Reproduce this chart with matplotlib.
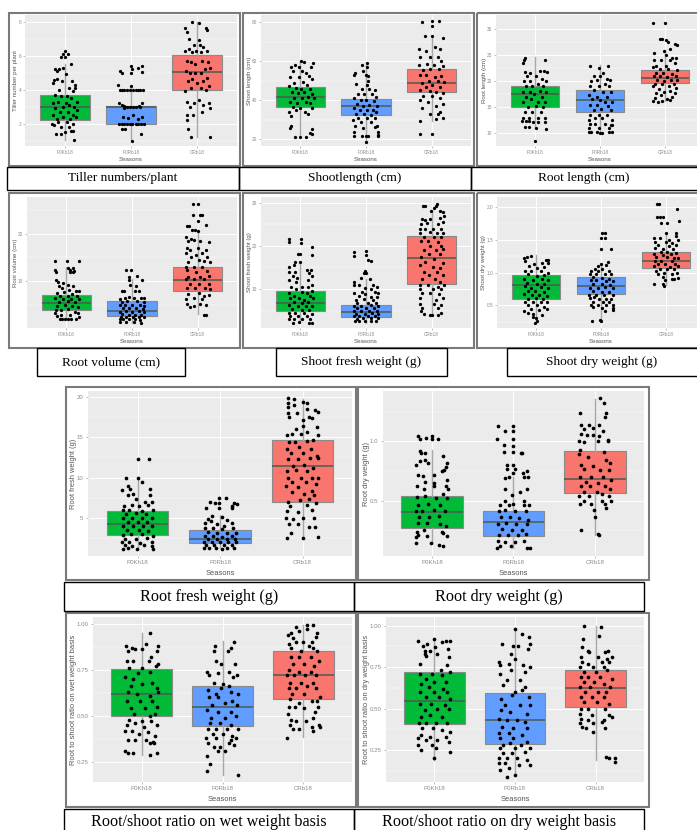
import matplotlib
matplotlib.use("Agg")
import matplotlib.pyplot as plt
from matplotlib.patches import Rectangle
from matplotlib.transforms import Affine2D

plt.rcParams['font.family'] = ['Liberation Sans', 'DejaVu Sans']

W, H = 697, 830

categories = ["P0Kh18", "P0Rb18", "CRb18"]
box_colors = ["#00BA38", "#619CFF", "#F8766D"]

# jittered points: (offset from category, value)
tiller_kh = [(.01,6.3),(-.02,6.1),(.05,6.1),(-.05,5.9),(0,5.9),(.09,5.5),(-.14,5.2),(-.09,5.2),(-.02,5.25),(-.11,5.1),(.02,4.9),(-.16,4.55),(-.12,4.6),(-.04,4.5),(.11,4.5),(.16,4.3),(-.17,4.4),(.06,4.1),(.15,4.1),(-.08,4.0),(.13,3.9),(-.15,3.7),(-.05,3.6),(.03,3.6),(.1,3.5),(.18,3.3),(-.18,3.2),(-.1,3.3),(.02,3.2),(.07,3.1),(-.03,3.0),(.14,3.0),(-.14,2.9),(.19,2.8),(-.07,2.7),(.05,2.7),(.12,2.5),(-.17,2.5),(-.02,2.4),(.08,2.3),(-.12,2.3),(.17,2.4),(-.19,2.0),(-.1,2.1),(.03,2.1),(.12,2.0),(-.16,1.9),(-.05,1.8),(.07,1.8),(.13,1.6),(-.13,1.4),(-.05,1.4),(.01,1.5),(.09,1.6),(.14,1.05)]
tiller_rb = [(-.16,5.1),(-.14,5.0),(0,5.4),(.01,5.2),(.1,5.3),(.17,5.4),(.16,5.05),(0,5.0),(-.19,4.3),(-.17,4.0),(-.13,4.0),(-.1,4.0),(-.06,4.0),(-.02,4.0),(.03,4.0),(.07,4.0),(.11,4.0),(.14,4.0),(.18,4.0),(.0,4.2),(-.18,3.2),(-.14,3.1),(-.1,3.05),(-.06,3.0),(-.02,3.0),(.03,3.0),(.08,3.0),(.12,3.05),(.17,3.2),(.14,3.0),(-.1,2.9),(-.12,2.4),(-.05,2.35),(.03,2.5),(.1,2.3),(.17,2.4),(-.18,2.0),(-.14,2.0),(-.1,2.0),(-.06,2.0),(-.02,2.0),(.02,2.0),(.07,2.0),(.11,2.0),(.15,2.0),(.19,2.0),(-.13,1.7),(-.09,1.7),(.01,1.0),(.15,1.4)]
tiller_cr = [(-.18,7.6),(-.16,7.4),(-.08,8.0),(.02,7.9),(.13,7.6),(.15,7.5),(-.13,7.0),(-.05,6.6),(.04,6.6),(.09,6.5),(.03,6.9),(-.18,6.3),(-.13,6.4),(-.08,6.2),(-.02,6.3),(.05,6.2),(.15,6.25),(-.16,5.7),(-.1,5.6),(-.03,5.5),(.07,5.7),(.16,5.6),(.19,5.3),(-.17,5.1),(-.11,5.0),(-.04,5.0),(.05,5.0),(.11,5.2),(-.14,4.5),(-.08,4.6),(0,4.4),(.08,4.5),(.15,4.7),(.18,4.2),(-.18,3.9),(-.09,4.1),(.06,4.1),(.13,4.0),(-.15,3.3),(-.11,3.0),(-.05,3.2),(.02,3.4),(.09,3.1),(.17,3.2),(.19,2.9),(-.16,2.5),(-.15,2.2),(-.06,2.5),(.07,2.7),(-.14,1.7),(-.1,1.2),(.19,1.2)]

shoot_kh = [(.01,60),(.05,59.5),(.19,59),(-.08,58),(-.14,57),(-.02,57),(.16,57),(-.11,55),(.03,55),(.09,54),(-.16,52),(-.02,52),(.13,52.5),(.18,51),(-.1,49),(.04,49.5),(.1,48),(-.17,47.5),(-.07,46.5),(.01,46),(.14,46),(-.13,44),(-.03,43.5),(.06,44),(.17,43),(-.1,41),(.02,41),(.11,41.5),(.2,41),(-.16,39),(-.05,38.5),(.08,39),(.15,38.5),(-.12,36.5),(0,36),(.18,36),(-.17,34),(-.07,35),(.07,34),(-.14,32),(.12,33),(-.15,27),(-.16,26),(.17,25.5),(.14,23),(.17,22.5),(-.08,21),(0,21),(.08,21)]
shoot_rb = [(-.19,53),(-.17,54),(-.06,58),(.01,59),(.02,57),(-.04,55),(.0,53),(.03,52.5),(-.16,48.5),(.01,48),(.03,50),(-.06,46),(.05,46),(.13,45),(-.12,43),(-.03,43),(.09,43),(.15,41.5),(-.18,41),(-.08,40),(0,40),(.12,39.5),(-.14,38),(-.04,37),(.05,37.5),(.17,37),(-.18,36),(-.09,35),(.01,35),(.1,35),(.15,34),(-.15,33),(-.03,33),(.07,32.5),(-.12,31),(.02,31),(.13,31),(-.2,30),(-.07,29),(.08,29),(-.17,27),(.17,27),(-.05,26),(.14,26.5),(-.19,24),(.19,24),(.18,22),(-.19,21.5),(-.06,21.5),(0,21.5),(.03,21.5),(.19,21.5),(0,18.5)]
shoot_cr = [(-.14,80),(0,80.5),(.11,80.5),(0,78),(-.1,73),(0,73),(.17,72),(-.19,66),(-.09,65),(.05,67),(.12,66),(-.17,62),(-.03,62),(.09,62),(.15,60),(-.19,58),(-.07,58.5),(.03,58),(.18,57.5),(-.13,55.5),(-.02,56),(.11,56),(-.17,53),(-.09,53),(.05,52),(.15,52.5),(-.04,50),(.09,50),(.19,49.5),(-.14,49),(0,48),(-.08,47),(.13,47),(-.18,45),(-.03,44.5),(.07,44),(.17,43.5),(-.13,42),(.01,42),(.12,41),(-.17,40),(-.05,39),(.17,38),(.06,37),(-.14,36),(.12,34),(-.02,33),(.1,33),(.18,31),(.06,30.5),(-.18,29.5),(-.18,22.5),(0,22.5)]

rootlen_kh = [(-.16,24.5),(-.17,24),(.16,24),(-.18,23.5),(-.16,21.8),(-.08,21.5),(.08,22),(.14,22),(.18,21.8),(-.12,21),(.02,21),(.11,20.5),(-.17,20),(-.07,20),(.17,20),(.05,19.5),(-.14,19),(-.04,19),(.13,19),(-.18,18),(-.08,18),(.07,18.2),(.17,18),(-.14,17),(-.02,17.5),(.11,17),(-.19,16),(-.06,16.5),(.05,16),(.16,16),(-.11,15),(.01,15.3),(.12,15),(-.16,14),(-.05,14),(.09,14),(-.18,13),(-.09,13),(.04,13),(.16,13),(-.2,12.3),(-.14,12.3),(-.09,12.3),(-.03,12.2),(.05,12.2),(.15,12.2),(-.16,11.2),(-.1,11.2),(.17,10.9),(.02,11),(0,8.5)]
rootlen_rb = [(-.16,23),(.13,23),(-.02,22.5),(.05,21.5),(-.1,21),(0,21),(.11,20.5),(.16,20.2),(-.14,20),(-.05,20.2),(.07,19.5),(-.15,19),(-.02,19),(.14,19),(-.1,18.3),(.05,18),(.17,18),(-.17,17.3),(-.05,17),(.11,17),(-.13,16.5),(0,16.3),(.08,16),(.19,16),(-.16,15.5),(-.05,15.5),(.12,15.3),(-.1,14.5),(.02,14.7),(.17,14.5),(-.15,13.5),(-.02,13.5),(.1,13.5),(-.17,12.5),(-.07,13),(.03,13),(.19,12.5),(-.16,11.7),(-.08,11.8),(.07,11.8),(.17,11.5),(-.17,11),(-.02,11),(.14,11),(.18,11.5),(-.17,10.2),(-.14,10.2),(-.05,10.2),(0,10.1),(.03,10.1),(.14,10.2),(.18,10.2)]
rootlen_cr = [(-.18,31.2),(0,31.1),(-.07,28),(-.05,28),(.01,27.9),(.05,27.5),(.15,27.2),(.18,27),(.07,26.2),(-.02,25.8),(-.17,25.5),(.02,25),(.11,24.5),(.17,24.5),(-.17,24),(-.06,24),(.08,24),(-.14,23),(.01,23),(.15,23.5),(-.19,22.8),(-.08,22.3),(.04,22.3),(.18,22.2),(-.14,21.5),(-.03,21.6),(.11,21.3),(-.17,21),(-.07,20.9),(.03,20.8),(.17,20.9),(-.12,20.2),(-.01,20.1),(.09,20.3),(.19,20.2),(-.16,19.5),(-.05,19.5),(.14,19.5),(-.18,19),(.06,19),(-.1,18.5),(.17,18.7),(-.02,18),(.08,18.2),(-.14,17.8),(.15,17.8),(-.06,17.3),(.1,17),(-.16,16.8),(-.18,16.2),(-.11,16),(-.04,16.2),(.03,16.5),(.07,16.3)]

volume_kh = [(-.17,14.3),(.01,14.3),(.19,14.3),(.02,12.7),(.1,12.7),(-.17,12.3),(-.16,12),(.05,12.3),(.05,11.9),(.1,11.9),(.12,12.1),(-.16,10.2),(-.13,9.9),(-.05,9.6),(.02,9.2),(-.12,9),(.1,9),(-.07,8.5),(.04,8.2),(.15,8),(-.14,7.5),(-.04,7.8),(.08,7.4),(.19,8),(-.1,7),(.02,7),(.16,7),(-.17,6.5),(-.05,6.3),(.07,6.2),(.19,6.3),(-.12,5.6),(.03,5.8),(.13,5.6),(-.02,5),(-.15,4.8),(.08,4.8),(.18,4.6),(-.16,4),(-.08,4),(.03,4.1),(.13,3.6),(-.17,3.3),(-.15,2.8),(-.08,3),(.05,3),(.18,3.3),(.19,2.6),(-.1,2),(-.06,2),(-.02,2),(.03,2),(.07,2),(.14,2)]
volume_rb = [(-.09,12.3),(-.01,12.3),(.08,11.1),(-.05,11),(.15,10.3),(-.05,10.2),(-.03,9.3),(.06,9),(-.15,8),(-.12,8),(.04,8),(.11,7.9),(.13,6.5),(-.18,6.2),(-.1,6.5),(-.04,6.8),(.03,6.4),(.18,6.5),(-.15,5.7),(-.07,5.8),(.07,5.8),(.18,5.7),(-.18,5),(-.1,5),(0,5.1),(.12,5),(.19,4.9),(-.14,4.3),(-.05,4.4),(.06,4.4),(.16,4.2),(-.18,3.6),(-.09,3.7),(0,3.6),(.1,3.7),(.19,3.6),(-.15,3.1),(-.04,3),(.05,3),(.14,3),(-.17,2.6),(-.09,2.5),(.02,2.5),(.11,2.5),(.18,2.6),(-.19,2),(-.13,2),(-.05,2),(.04,2),(.12,1.9),(-.18,1.4),(-.09,1.5),(.03,1.5),(.14,1.3)]
volume_cr = [(-.07,26.3),(0,26.2),(-.07,24),(.03,24),(.07,24),(0,22.7),(-.16,21.7),(-.13,21.6),(.13,21.9),(-.09,20.8),(-.04,20.8),(.01,20.6),(-.17,19.3),(-.14,18.4),(-.1,18.8),(-.05,18.6),(.03,18.5),(.18,18.2),(-.16,17),(-.12,16.5),(0,17),(.13,16.5),(-.18,16),(-.03,15.6),(.06,16),(-.1,15),(.15,15),(-.14,14),(.02,14.5),(.1,14.2),(.19,14),(-.18,13),(-.06,13),(.06,13),(-.16,12.3),(-.02,12),(.14,12.2),(-.14,11),(.04,11),(.17,11.2),(-.18,10.5),(-.05,10.4),(.09,10.5),(-.12,9.5),(.02,9.4),(.17,9.5),(-.16,8.5),(-.04,8.5),(.11,8.5),(.19,8.3),(-.14,7.3),(.02,7.5),(.1,7),(.18,7.2),(-.17,6.2),(-.05,6.4),(.07,6.2),(-.16,5.2),(-.12,4.5),(-.06,4.8),(.03,5.2),(.13,5),(.09,3),(.13,3)]

fresh_kh = [(-.18,21.5),(-.17,20.8),(.01,21.5),(.01,20.6),(.17,19.8),(-.03,18),(.0,18),(.18,17.8),(-.08,16.3),(.0,16.3),(-.1,15.5),(-.17,15),(.1,14.5),(.16,14.3),(-.17,14),(-.08,14),(.13,13.8),(-.12,13),(.18,13),(-.05,12.5),(.12,12),(-.18,12),(-.06,11.5),(.18,11),(-.14,10.5),(.03,10.5),(.12,10.5),(-.06,10),(.18,9.6),(-.17,9),(.02,9.2),(.1,9),(-.1,8.4),(.14,8.3),(-.16,7.8),(-.02,8),(.06,7.5),(.19,7.8),(-.1,7),(.02,6.8),(.12,7),(-.18,6.3),(-.04,6),(.08,6),(.17,6),(-.13,5.3),(.02,5.2),(.13,5.2),(-.18,4.5),(-.08,4.5),(.06,4.5),(.17,4.3),(-.16,3.7),(-.03,3.8),(.1,3.8),(-.18,3),(-.1,3),(.03,3),(.15,3),(-.12,2.2),(-.02,2.4),(.13,2.2),(.18,2.2)]
fresh_rb = [(-.19,18.6),(-.18,17.7),(.0,18.7),(.0,17.8),(.03,16.6),(.08,16.5),(-.02,14.1),(-.03,13.8),(.0,13.6),(-.07,12.6),(-.18,11.6),(.06,12.2),(-.19,11),(-.1,11),(.1,11),(.16,10.5),(-.02,10.3),(.08,10),(-.06,9.4),(.14,9.4),(-.19,9),(-.01,8.8),(.18,9),(-.1,8.3),(.07,8.2),(.16,8.2),(-.16,7.5),(-.03,7.6),(.1,7.5),(-.14,6.8),(.03,6.8),(.15,6.8),(-.18,6),(-.07,6),(.07,6.2),(.18,6),(-.14,5.5),(0,5.5),(.12,5.5),(-.18,4.9),(-.08,4.9),(.05,5),(.16,4.8),(-.15,4.3),(-.02,4.3),(.09,4.4),(.19,4.3),(-.18,3.7),(-.1,3.7),(.03,3.7),(.14,3.7),(-.14,3.1),(-.05,3.2),(.07,3.2),(.18,3.2),(-.17,2.6),(-.1,2.5),(-.02,2.6),(.07,2.5),(.15,2.6)]
fresh_cr = [(-.13,29.3),(-.1,29.3),(.03,28.8),(.06,29.2),(.08,29.7),(-.01,28),(.12,28),(.17,27.8),(.19,27),(-.14,26.3),(-.1,26),(-.03,26.2),(.13,26.5),(-.16,25),(-.07,25.2),(.1,25),(.17,25.5),(-.17,24),(-.1,24),(.02,24),(.14,23.8),(-.18,23),(-.03,23.2),(.08,23),(.18,23),(-.12,22),(.04,22),(.14,22),(-.16,21),(-.05,21),(.1,20.8),(-.02,20),(.15,20),(-.12,19),(.07,19),(.18,19.2),(-.16,17.5),(-.04,18),(.12,18),(.03,17),(-.1,16.3),(.17,16),(-.17,15.5),(.02,15.2),(.12,14.8),(-.12,14),(.08,14),(-.04,13.2),(.17,13.3),(-.15,12.2),(.05,12.3),(.12,11.7),(-.18,11),(-.06,11),(.09,10.5),(.19,11),(-.17,10),(.02,10),(.14,10),(-.15,9),(-.02,9),(.11,8.8),(-.18,7.8),(.06,7.5),(.17,8),(-.17,6.6),(.04,6.6),(.14,6.3),(-.14,5.5),(.09,5.7),(-.16,5),(-.12,4.3),(-.03,4),(0,4),(.09,4),(.14,4.4)]

dry_kh = [(-.18,1.22),(-.14,1.24),(-.08,1.25),(.16,1.19),(.19,1.19),(-.17,1.17),(.09,1.14),(.18,1.14),(-.03,1.13),(-.11,1.1),(.02,1.07),(.13,1.08),(-.17,1.02),(-.07,1.03),(.07,1.03),(.19,1.0),(-.12,.97),(.01,.95),(.13,.96),(-.18,.9),(-.05,.89),(.09,.9),(.19,.88),(-.14,.84),(.02,.83),(.13,.83),(-.17,.79),(-.08,.76),(.07,.78),(.18,.76),(-.13,.72),(-.01,.72),(.12,.7),(-.18,.68),(-.06,.65),(.05,.66),(.17,.64),(-.12,.6),(0,.61),(.11,.59),(-.17,.55),(-.04,.55),(.08,.55),(.17,.55),(-.13,.5),(.01,.5),(.12,.48),(-.18,.42),(-.08,.44),(.04,.43),(.17,.44),(-.12,.38),(-.05,.37),(.09,.36),(-.05,.33),(0,.3),(-.01,.23),(.01,.26)]
dry_rb = [(.01,1.6),(.06,1.6),(.0,1.53),(.06,1.52),(.0,1.36),(.15,1.36),(.11,1.16),(-.05,1.1),(.0,1.13),(.08,1.12),(.02,1.05),(.13,1.03),(-.16,1.03),(-.1,1.05),(-.05,1.02),(-.17,.98),(-.07,.97),(.06,.98),(.15,.97),(-.13,.93),(.02,.92),(.13,.9),(-.16,.88),(-.07,.88),(.07,.87),(.18,.87),(-.12,.82),(.01,.82),(.14,.81),(-.17,.77),(-.05,.76),(.06,.78),(.19,.76),(-.13,.72),(.01,.71),(.12,.71),(-.18,.66),(-.08,.65),(.05,.66),(.18,.66),(-.17,.61),(-.11,.62),(-.03,.6),(.08,.6),(.16,.6),(-.12,.55),(.03,.55),(.13,.55),(-.15,.5),(-.05,.5),(.07,.5),(.19,.5),(-.13,.47),(.02,.46),(.18,.46),(.19,.43),(.06,.42),(-.14,.26),(-.02,.27),(0,.26)]
dry_cr = [(-.14,2.04),(-.11,2.04),(.17,1.97),(-.1,1.85),(-.14,1.85),(-.04,1.84),(-.07,1.76),(.01,1.75),(.2,1.79),(.0,1.6),(.15,1.6),(.15,1.55),(-.18,1.52),(-.1,1.52),(.05,1.5),(.18,1.5),(-.17,1.47),(0,1.47),(.09,1.45),(-.13,1.42),(.04,1.4),(.16,1.42),(-.17,1.38),(-.04,1.36),(.11,1.36),(-.08,1.32),(.02,1.32),(.16,1.3),(-.18,1.28),(-.04,1.27),(.07,1.28),(-.15,1.23),(.01,1.23),(.12,1.22),(.19,1.22),(-.17,1.18),(-.07,1.17),(.09,1.18),(-.13,1.13),(-.01,1.13),(.14,1.13),(-.18,1.1),(.06,1.09),(.19,1.1),(-.1,1.06),(.02,1.05),(.13,1.05),(-.16,1.02),(-.03,1.0),(.17,1.0),(-.13,.97),(.09,.97),(-.04,.93),(.18,.91),(-.02,.88),(.09,.9),(.13,.9),(-.19,.82),(-.05,.83),(-.03,.8)]

rfresh_kh = [(0,12.3),(.14,12.3),(-.14,10),(0,9.9),(.05,9.5),(-.11,9),(-.09,8.6),(.15,8.6),(-.19,8.5),(-.05,8),(-.12,7.8),(.15,7.9),(-.02,7.4),(.09,7),(.18,7),(-.16,6.5),(-.07,6.6),(.02,6.5),(.13,6.6),(-.18,6),(-.1,6),(.05,5.9),(.19,6),(-.14,5.5),(-.02,5.6),(.1,5.5),(-.18,5),(-.07,5),(.05,5),(.17,5),(-.12,4.5),(0,4.5),(.12,4.5),(-.17,4),(-.06,4),(.07,4),(.17,4),(-.13,3.5),(.02,3.5),(.13,3.4),(-.18,2.9),(-.08,3),(.06,3),(.19,2.8),(-.15,2.4),(-.02,2.4),(.12,2.5),(-.19,2),(-.1,2),(.03,1.9),(.17,2),(-.15,1.6),(-.07,1.5),(.08,1.7),(.18,1.5),(-.18,1.1),(-.11,1.3),(-.01,1.2),(.19,1.2)]
rfresh_rb = [(-.01,7.5),(.07,7.5),(-.12,7),(-.06,6.8),(-.01,6.8),(.17,6.9),(.21,6.7),(.15,6.5),(-.17,6.3),(-.01,6.3),(.14,6.2),(-.1,5.3),(.02,5.1),(-.15,4.9),(.08,4.8),(-.18,4.4),(-.11,4.6),(.15,4.4),(-.04,4.2),(.05,4),(-.18,3.8),(-.09,3.7),(.02,3.6),(.16,3.8),(-.15,3.3),(-.04,3.2),(.08,3.1),(.19,3.2),(-.18,2.8),(-.08,2.8),(.02,2.7),(.14,2.8),(-.14,2.4),(-.04,2.4),(.08,2.4),(.18,2.4),(-.19,2),(-.1,2),(0,2),(.1,2),(.19,2),(-.17,1.6),(-.07,1.6),(.05,1.6),(.15,1.6),(-.19,1.3),(-.13,1.3),(-.05,1.3),(.02,1.2),(.09,1.3),(.17,1.3)]
rfresh_cr = [(-.18,19.9),(-.1,19.8),(-.18,19.3),(0,19.4),(.05,19.3),(-.18,18.7),(-.1,19),(.05,18.5),(.15,18.4),(.19,18.1),(-.18,18),(-.07,18),(-.16,17.5),(.08,17.5),(.01,17.2),(.12,17.4),(0,16.4),(.17,16.3),(-.08,16),(.05,15.7),(-.19,15.3),(-.13,15.4),(-.02,15.4),(.19,15.3),(-.16,14.4),(-.09,14.4),(.05,14.5),(.13,14.7),(-.19,13.6),(-.04,13.8),(.1,13.5),(-.14,13),(.01,13),(.17,12.7),(-.18,12.3),(-.06,12.3),(.09,12.4),(.19,12.4),(-.12,11.4),(.02,11.6),(.13,11.2),(-.19,10.8),(-.08,11),(.06,10.8),(-.18,10),(-.02,10),(.12,10),(.19,10),(-.13,9.5),(.04,9.4),(.16,9.2),(-.2,9),(-.05,8.8),(.11,8.4),(-.13,8.2),(.02,8),(.14,7.8),(-.17,7),(-.03,7.2),(.08,7.3),(-.15,6.5),(.05,6.6),(.16,6.8),(-.19,5.9),(-.06,5.7),(.12,6),(-.2,5),(-.12,4.9),(0,5),(.14,5),(-.16,4.3),(-.05,4.2),(.08,3.9),(.15,3.9),(-.14,3.2),(-.19,2.5),(0,2.5),(.19,2.6)]

rdry_kh = [(-.17,1.04),(-.15,1.02),(-.07,1.03),(0,1.04),(.0,1.02),(.08,1.02),(-.15,.92),(-.13,.9),(-.09,.9),(.14,.88),(-.15,.83),(-.09,.84),(-.05,.82),(.18,.82),(.17,.78),(-.19,.8),(.15,.76),(.12,.75),(-.17,.72),(-.11,.71),(.03,.72),(.18,.67),(-.08,.66),(.03,.65),(-.18,.62),(.03,.62),(.17,.62),(.2,.6),(-.1,.6),(.13,.56),(-.18,.53),(-.08,.54),(.05,.52),(.18,.52),(-.17,.46),(-.05,.47),(.1,.46),(-.2,.41),(-.12,.41),(.02,.42),(.16,.41),(-.16,.36),(-.03,.36),(.09,.37),(-.17,.31),(-.06,.31),(.1,.3),(.17,.29),(-.18,.24),(-.1,.25),(.12,.24),(-.17,.21),(-.06,.2),(.19,.2),(-.19,.19),(.14,.23),(-.2,.14),(-.01,.14),(.09,.13),(.13,.12)]
rdry_rb = [(-.19,1.13),(0,1.13),(-.1,1.09),(0,1.09),(-.2,1.02),(0,1.02),(-.12,.97),(0,.96),(-.12,.91),(0,.91),(.09,.9),(.11,.9),(-.08,.8),(0,.8),(.02,.77),(-.08,.77),(.17,.75),(.12,.73),(.0,.73),(-.05,.7),(-.1,.69),(.13,.7),(.18,.7),(-.11,.6),(.17,.6),(-.02,.55),(.08,.57),(-.1,.5),(-.01,.47),(.13,.5),(-.17,.46),(-.06,.46),(.13,.46),(.19,.46),(-.18,.41),(-.1,.42),(.02,.41),(.15,.41),(-.15,.36),(-.04,.36),(.07,.35),(.18,.34),(-.19,.3),(-.09,.31),(.03,.3),(.17,.3),(-.14,.26),(-.02,.25),(.1,.25),(-.18,.21),(-.07,.21),(.05,.21),(.15,.22),(-.19,.16),(-.1,.15),(.02,.15),(.13,.16),(-.17,.12),(-.03,.12),(.16,.1),(.2,.1),(-.2,.1)]
rdry_cr = [(.06,1.36),(.11,1.32),(-.19,1.24),(.14,1.24),(.12,1.2),(.05,1.14),(-.17,1.14),(-.07,1.14),(-.03,1.11),(-.13,1.1),(.1,1.09),(-.17,1.06),(-.1,1.05),(-.03,1.05),(.05,1.04),(.16,1.01),(-.2,1.0),(-.13,.99),(.03,1.0),(.16,1.0),(-.18,.93),(.11,.91),(-.2,.89),(-.09,.87),(.14,.84),(-.17,.8),(-.02,.79),(.18,.82),(-.13,.77),(.06,.76),(.17,.76),(-.18,.7),(-.05,.7),(.1,.7),(-.11,.66),(.03,.65),(.19,.67),(-.17,.62),(-.06,.62),(.12,.62),(.18,.6),(-.14,.57),(.02,.57),(.09,.56),(-.2,.54),(-.07,.54),(.17,.54),(-.13,.5),(.08,.5),(.19,.5),(-.18,.47),(-.05,.47),(.12,.47),(.14,.44),(-.01,.42),(.0,.36),(-.17,.25),(.03,.22),(.05,.21)]

wet_kh = [(.1,.95),(-.19,.88),(-.12,.87),(.05,.89),(.2,.88),(-.17,.85),(-.08,.86),(.01,.86),(.19,.85),(.12,.82),(-.18,.8),(-.1,.8),(.09,.8),(.2,.78),(-.15,.76),(.0,.76),(.18,.77),(-.05,.73),(.11,.74),(-.2,.71),(-.1,.7),(.13,.68),(-.13,.66),(.01,.67),(.19,.65),(-.17,.63),(-.06,.62),(.1,.61),(.2,.63),(-.18,.58),(-.02,.58),(.13,.58),(-.13,.54),(.04,.54),(.19,.55),(-.09,.51),(.1,.5),(.17,.51),(-.16,.48),(0,.47),(.12,.47),(-.18,.45),(-.08,.46),(.03,.44),(.19,.45),(-.2,.42),(-.12,.42),(.08,.41),(-.03,.4),(.17,.39),(-.17,.37),(-.08,.37),(.05,.37),(.14,.36),(.1,.35),(.15,.35),(-.2,.31),(-.17,.3),(-.11,.3),(.1,.29),(.19,.3)]
wet_rb = [(-.09,.88),(.14,.9),(.1,.87),(-.1,.85),(.07,.85),(-.08,.8),(.15,.78),(-.02,.78),(-.19,.74),(.08,.74),(-.17,.72),(-.05,.73),(.13,.71),(.18,.72),(-.1,.68),(.01,.67),(.08,.66),(-.02,.65),(-.18,.64),(-.08,.62),(.1,.63),(.19,.62),(-.17,.6),(-.05,.6),(.12,.58),(-.13,.56),(.03,.57),(.18,.56),(-.19,.53),(-.06,.52),(.1,.52),(-.14,.49),(.03,.49),(.17,.5),(-.16,.46),(-.03,.46),(.1,.45),(-.18,.43),(-.08,.43),(.05,.43),(.19,.43),(-.12,.4),(.0,.4),(.12,.39),(-.2,.38),(-.08,.38),(.1,.37),(.17,.38),(-.18,.35),(-.1,.33),(-.03,.33),(.14,.34),(.08,.35),(-.05,.31),(.03,.31),(-.19,.28),(-.16,.24),(-.19,.2),(.19,.18)]
wet_cr = [(-.15,.95),(-.09,.98),(-.06,.96),(.04,.99),(.05,.97),(.12,.99),(.17,.95),(-.19,.94),(-.13,.92),(.16,.93),(-.09,.9),(0,.9),(.1,.9),(-.18,.89),(-.15,.87),(.07,.88),(.12,.87),(-.03,.85),(.17,.85),(-.15,.82),(-.05,.82),(.09,.82),(.19,.8),(-.13,.78),(.01,.78),(.13,.77),(-.18,.75),(-.05,.74),(.09,.74),(-.2,.72),(-.12,.72),(.02,.72),(.16,.72),(-.17,.68),(-.03,.68),(.12,.68),(-.18,.65),(-.09,.65),(.05,.66),(.16,.65),(-.14,.62),(.01,.62),(.2,.6),(-.16,.59),(-.05,.57),(.1,.58),(.17,.58),(-.18,.55),(-.1,.55),(.01,.54),(.18,.55),(-.19,.51),(.14,.52),(-.15,.48),(.03,.47),(.12,.49),(-.17,.45),(-.09,.47),(.19,.45),(-.13,.43),(-.06,.43),(.1,.44),(.12,.42),(.2,.44),(-.2,.38)]

dryr_kh = [(-.2,.91),(.15,.91),(.19,.91),(0,.92),(-.14,.88),(-.09,.89),(.01,.87),(.1,.9),(-.12,.85),(-.05,.85),(.17,.86),(-.12,.83),(.03,.83),(.18,.81),(-.1,.82),(-.18,.77),(.16,.76),(-.18,.71),(.08,.73),(.19,.72),(-.03,.71),(-.1,.68),(.09,.7),(-.16,.65),(0,.66),(.15,.66),(-.07,.63),(.11,.62),(-.18,.6),(-.01,.6),(.16,.6),(-.11,.57),(.06,.57),(.19,.56),(-.18,.53),(-.04,.53),(.13,.52),(-.12,.49),(.03,.5),(.18,.5),(-.17,.45),(-.06,.46),(.1,.45),(-.19,.41),(-.11,.41),(.02,.41),(.16,.41),(-.15,.38),(-.02,.38),(.1,.37),(.19,.36),(-.16,.34),(-.05,.33),(.15,.33),(-.2,.32),(-.11,.31),(.03,.31),(.18,.3),(-.2,.28),(-.03,.28),(.02,.26),(-.17,.25),(.19,.24),(0,.2)]
dryr_rb = [(0,.98),(.09,.95),(.17,.93),(-.16,.89),(-.03,.88),(.04,.88),(.18,.89),(.16,.86),(-.05,.83),(.0,.8),(-.2,.78),(-.19,.76),(-.08,.77),(.1,.76),(.18,.75),(-.05,.73),(.12,.72),(-.18,.71),(-.1,.67),(.06,.67),(-.15,.64),(.13,.63),(.0,.6),(.09,.61),(-.17,.56),(-.04,.58),(.17,.57),(-.12,.52),(.06,.52),(.18,.52),(-.17,.49),(-.06,.48),(.15,.47),(-.2,.44),(-.1,.43),(.03,.43),(.12,.42),(-.16,.39),(-.02,.38),(.15,.38),(-.2,.35),(-.08,.35),(.09,.34),(-.18,.32),(-.02,.32),(.15,.3),(-.15,.28),(-.06,.29),(.08,.28),(-.19,.26),(.0,.26),(.18,.26),(-.15,.23),(-.04,.23),(.12,.24),(-.2,.2),(-.1,.2),(.02,.2),(.15,.19),(-.2,.17),(-.12,.17),(.05,.16),(.19,.16),(-.07,.14),(-.18,.13),(-.1,.09),(0,.1)]
dryr_cr = [(-.14,1.0),(.07,.99),(.04,.94),(-.16,.92),(-.17,.87),(-.1,.85),(-.08,.84),(.12,.84),(.15,.85),(.2,.81),(-.18,.81),(.03,.81),(.14,.8),(-.17,.78),(-.1,.77),(.08,.78),(.16,.78),(-.2,.75),(-.03,.75),(.1,.75),(-.15,.72),(0,.72),(.14,.73),(-.18,.69),(-.09,.69),(.06,.69),(.2,.68),(-.14,.66),(-.02,.66),(.11,.65),(-.2,.63),(-.07,.63),(.18,.63),(-.13,.6),(.03,.6),(.13,.6),(-.18,.57),(-.05,.57),(.1,.57),(-.14,.54),(.02,.54),(.16,.53),(-.18,.5),(-.09,.5),(.12,.5),(-.2,.47),(-.05,.46),(.16,.46),(-.18,.44),(-.1,.43),(.1,.43),(.2,.45),(-.19,.41),(-.03,.41),(.08,.42),(-.17,.39),(-.12,.38),(.12,.38),(-.03,.36),(.13,.21),(.17,.2),(.24,.2),(.24,.18)]

# box stats per group: lower whisker, q1, median, q3, upper whisker
tiller_stats = [[1.05,2.2,3.0,3.67,5.5],[1.0,2.0,3.0,3.05,4.25],[1.2,4.0,5.05,6.05,7.95]]
shoot_stats = [[21,36.6,41.9,46.7,60],[18,32.7,37,40.5,58],[29.6,44.3,48.9,55.9,71.8]]
rootlen_stats = [[11,15,17.5,19.1,24.6],[10.2,14.15,16.45,18.4,23.1],[16.1,19.6,20.7,22.1,26]]
volume_stats = [[2,3.9,5.5,7.05,12.9],[1.3,2.7,3.7,5.9,10.4],[3.1,7.9,10.3,13.1,20.8]]
fresh_stats = [[2.2,4.9,6.8,9.6,16.3],[2.2,3.6,4.6,6.4,12.2],[4,11.1,17.2,22.2,28.3]]
dry_stats = [[.23,.6,.81,.965,1.27],[.26,.67,.8,.93,1.12],[.81,1.07,1.17,1.31,1.6]]
rfresh_stats = [[1.2,2.9,4.2,5.83,10],[1.3,1.85,2.35,3.5,5.4],[2.7,7.03,11.4,14.66,19.8]]
rdry_stats = [[.14,.27,.405,.54,.93],[.1,.205,.32,.41,.7],[.21,.565,.685,.915,1.357]]
wet_stats = [[.29,.5,.62,.754,.95],[.18,.446,.55,.66,.905],[.383,.59,.72,.85,.99]]
dryr_stats = [[.19,.405,.544,.723,.925],[.11,.287,.43,.593,.985],[.19,.508,.625,.733,1.0]]

# panel: ylabel, stats, points, y ticks, minor ticks, ylim, area px (l, r, t, b), frame px (l, r, t, b), small
panels = [
    ("Tiller number per plant", tiller_stats, [tiller_kh, tiller_rb, tiller_cr], [2, 4, 6, 8], [1, 3, 5, 7],
     (0.69, 8.39), (25, 237, 15, 146), (9, 240, 13, 166), True),
    ("Shoot length (cm)", shoot_stats, [shoot_kh, shoot_rb, shoot_cr], [20, 40, 60, 80], [30, 50, 70],
     (16.6, 83.6), (261, 471, 15, 146), (243, 474, 13, 166), True),
    ("Root length (cm)", rootlen_stats, [rootlen_kh, rootlen_rb, rootlen_cr], [10, 15, 20, 25, 30], [12.5, 17.5, 22.5, 27.5],
     (7.56, 32.7), (496, 704, 15, 146), (477, 710, 13, 166), True),
    ("Root volume (cm)", volume_stats, [volume_kh, volume_rb, volume_cr], [10, 20], [5, 15, 25],
     (0.19, 27.7), (27, 237, 197, 328), (9, 240, 193, 348), True),
    ("Shoot fresh weight (g)", fresh_stats, [fresh_kh, fresh_rb, fresh_cr], [10, 20, 30], [5, 15, 25],
     (0.96, 31.3), (261, 471, 197, 328), (243, 474, 193, 348), True),
    ("Shoot dry weight (g)", dry_stats, [dry_kh, dry_rb, dry_cr], [0.5, 1.0, 1.5, 2.0], [0.25, 0.75, 1.25, 1.75],
     (0.155, 2.15), (497, 705, 197, 328), (477, 710, 193, 348), True),
    ("Root fresh weight (g)", rfresh_stats, [rfresh_kh, rfresh_rb, rfresh_cr], [5, 10, 15, 20], [2.5, 7.5, 12.5, 17.5],
     (0.29, 20.74), (88, 352, 391, 556), (66, 356, 387, 580), False),
    ("Root dry weight (g)", rdry_stats, [rdry_kh, rdry_rb, rdry_cr], [0.5, 1.0], [0.25, 0.75, 1.25],
     (0.034, 1.423), (383, 644, 391, 556), (358, 649, 387, 580), False),
    ("Root to shoot ratio on wet weight basis", wet_stats, [wet_kh, wet_rb, wet_cr], [0.25, 0.5, 0.75, 1.0], [0.375, 0.625, 0.875],
     (0.141, 1.036), (93, 352, 617, 782), (66, 356, 613, 807), False),
    ("Root to shoot ratio on dry weight basis", dryr_stats, [dryr_kh, dryr_rb, dryr_cr], [0.25, 0.5, 0.75, 1.0], [0.125, 0.375, 0.625, 0.875],
     (0.057, 1.0525), (386, 644, 617, 782), (358, 649, 613, 807), False),
]

# caption text, box px (l, r, t, b), font size
captions = [
    ("Tiller numbers/plant", (7, 239, 167, 190), 9.6),
    ("Shootlength (cm)", (239, 471, 167, 190), 9.6),
    ("Root length (cm)", (471, 705, 167, 190), 9.6),
    ("Root volume (cm)", (37, 185, 348, 376), 9.6),
    ("Shoot fresh weight (g)", (276, 447, 348, 376), 9.6),
    ("Shoot dry weight (g)", (507, 710, 348, 376), 9.6),
    ("Root fresh weight (g)", (64, 354, 582, 611), 11.6),
    ("Root dry weight (g)", (354, 644, 582, 611), 11.6),
    ("Root/shoot ratio on wet weight basis", (64, 354, 809, 836), 11.6),
    ("Root/shoot ratio on dry weight basis", (354, 644, 809, 836), 11.6),
]

fig = plt.figure(figsize=(W / 100, H / 100), dpi=100)
px = Affine2D().scale(1 / W, -1 / H).translate(0, 1) + fig.transFigure


def draw_box(box, edge, lw):
    l, r, t, b = box
    fig.add_artist(Rectangle((l, t), r - l, b - t, transform=px, fill=False, edgecolor=edge, linewidth=lw))


for ylabel, stats, points, ticks, minor, ylim, area, frame, small in panels:
    draw_box(frame, "#7a7a7a", 1.5)
    l, r, t, b = area
    ax = fig.add_axes([l / W, 1 - b / H, (r - l) / W, (b - t) / H], facecolor="#EBEBEB")
    ax.set_axisbelow(True)
    for s in ax.spines.values():
        s.set_visible(False)

    bxp_stats = []
    for name, st in zip(categories, stats):
        bxp_stats.append({"label": name, "whislo": st[0], "q1": st[1], "med": st[2], "q3": st[3], "whishi": st[4], "fliers": []})
    boxes = ax.bxp(bxp_stats, positions=[1, 2, 3], widths=0.75, patch_artist=True, showfliers=False, showcaps=False,
                   boxprops=dict(edgecolor="#8a8a8a", linewidth=0.8),
                   medianprops=dict(color="#4d5a50", linewidth=1.1),
                   whiskerprops=dict(color="#a8a8a8", linewidth=1.0))
    for patch, c in zip(boxes["boxes"], box_colors):
        patch.set_facecolor(c)

    for i, group in enumerate(points):
        xs = [i + 1 + p[0] for p in group]
        ys = [p[1] for p in group]
        ax.scatter(xs, ys, s=5.5 if small else 7, c="black", linewidths=0, zorder=5)

    ax.set_xlim(0.4, 3.6)
    ax.set_ylim(*ylim)
    ax.set_yticks(ticks)
    ax.set_yticks([m for m in minor if ylim[0] < m < ylim[1]], minor=True)
    ax.set_yticklabels(["%.2f" % v if "ratio" in ylabel else ("%.1f" % v if "dry" in ylabel else "%d" % v) for v in ticks])
    ax.grid(True, which="major", color="white", linewidth=0.7)
    ax.grid(True, which="minor", axis="y", color="white", linewidth=0.35)

    tick_fs = 3.4 if small else 4.4
    label_fs = 4.4 if small else 5.4
    ax.tick_params(axis="both", which="major", length=1.2, width=0.4, color="#888888", labelsize=tick_fs, labelcolor="#8c8c8c", pad=1.5 if small else 2)
    ax.tick_params(axis="y", which="minor", length=0)
    ax.set_xlabel("Seasons", fontsize=label_fs, color="#555555", labelpad=1.5 if small else 3)
    ax.set_ylabel(ylabel, fontsize=label_fs, color="#555555", labelpad=0)

for text, box, size in captions:
    draw_box(box, "black", 1.0)
    l, r, t, b = box
    center_y = (t + b) / 2 if b < H else 822
    center_x = (l + min(r, W)) / 2 if r < 710 else l + (W - l) / 2
    fig.text(center_x, center_y, text, transform=px, ha="center", va="center", fontsize=size,
             family=["Liberation Serif", "DejaVu Serif"], color="black")

fig.savefig("out.png", dpi=100)
